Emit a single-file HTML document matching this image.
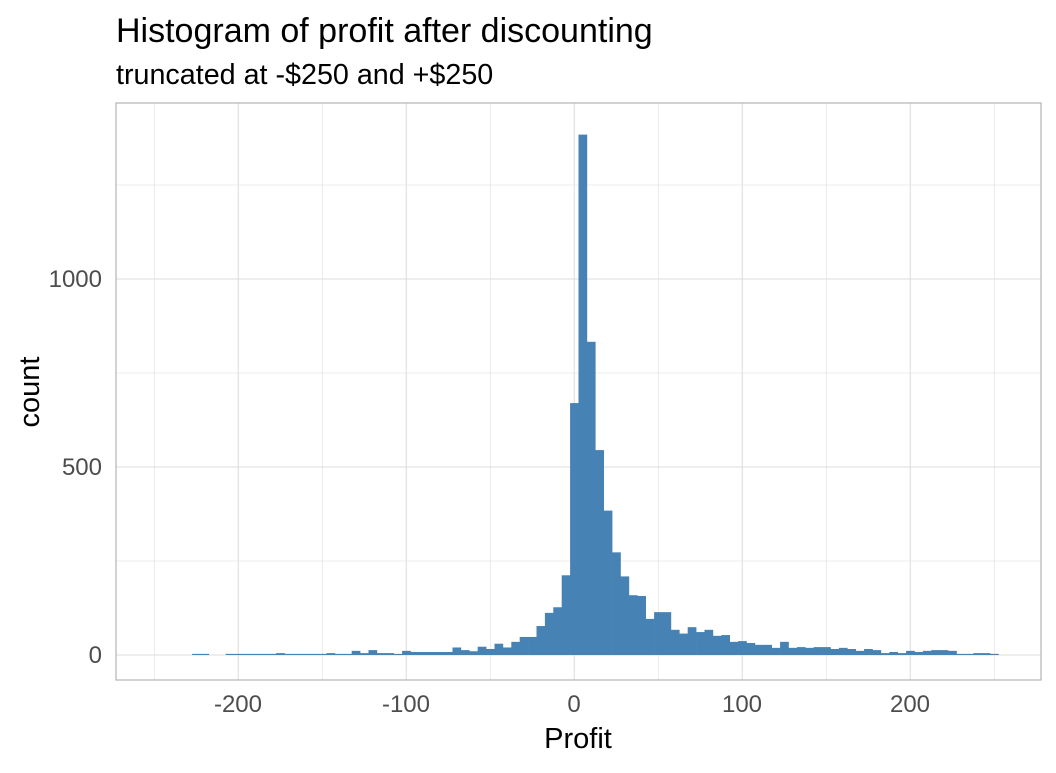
<!DOCTYPE html>
<html><head><meta charset="utf-8"><style>body{margin:0;background:#fff}</style></head><body>
<svg id="s" width="1056" height="768" xmlns="http://www.w3.org/2000/svg" font-family="Liberation Sans, sans-serif">
<rect width="1056" height="768" fill="#fff"/>
<g id="grid"></g>
<g id="bars" fill="#4682b4"></g>
<rect x="116" y="103" width="925" height="577" fill="none" stroke="#b3b3b3" stroke-width="1.2"/>
<text x="116" y="42" font-size="34" fill="#000">Histogram of profit after discounting</text>
<text x="116" y="84" font-size="28.7" fill="#000">truncated at -$250 and +$250</text>
<g font-size="24" fill="#4d4d4d" text-anchor="middle">
<text x="238" y="712">-200</text><text x="406" y="712">-100</text><text x="574" y="712">0</text><text x="742" y="712">100</text><text x="910" y="712">200</text>
</g>
<g font-size="24" fill="#4d4d4d" text-anchor="end">
<text x="102" y="663">0</text><text x="102" y="475">500</text><text x="102" y="287">1000</text>
</g>
<text x="578" y="748" font-size="29" text-anchor="middle">Profit</text>
<text transform="translate(39,392) rotate(-90)" font-size="29" text-anchor="middle">count</text>
</svg>
<script>
const X=u=>574.3+1.68*u, Y=c=>655-0.376*c;
let g='';
for(let u=-250;u<=250;u+=50){const m=u%100===0;g+=`<line x1="${X(u)}" x2="${X(u)}" y1="103" y2="680" stroke="#dedede" stroke-width="${m?1.1:0.6}"/>`;}
for(let c=0;c<=1500;c+=250){const y=Y(c);if(y<103)continue;g+=`<line x1="116" x2="1041" y1="${y}" y2="${y}" stroke="#dedede" stroke-width="${c%500===0?1.1:0.6}"/>`;}
document.getElementById('grid').innerHTML=g;
const d={'-225':3,'-220':3,'-205':3,'-200':3,'-195':3,'-190':3,'-185':3,'-180':3,'-175':5,'-170':3,'-165':3,'-160':3,'-155':3,'-150':3,'-145':5,'-140':3,'-135':3,'-130':11,'-125':5,'-120':13,'-115':5,'-110':5,'-105':3,'-100':11,'-95':8,'-90':8,'-85':8,'-80':8,'-75':8,'-70':20,'-65':13,'-60':10,'-55':22,'-50':16,'-45':30,'-40':20,'-35':35,'-30':48,'-25':48,'-20':77,'-15':112,'-10':127,'-5':212,'0':670,'5':1384,'10':833,'15':545,'20':384,'25':273,'30':209,'35':159,'40':157,'45':96,'50':114,'55':114,'60':67,'65':57,'70':74,'75':61,'80':67,'85':51,'90':53,'95':35,'100':37,'105':32,'110':27,'115':27,'120':19,'125':35,'130':19,'135':21,'140':19,'145':21,'150':21,'155':16,'160':19,'165':16,'170':11,'175':16,'180':13,'185':5,'190':8,'195':5,'200':11,'205':8,'210':11,'215':13,'220':13,'225':11,'230':3,'235':3,'240':5,'245':5,'250':3};
let b='';
for(const k in d){const u=+k,x1=X(u-2.5),x2=X(u+2.5),y=Y(d[k]);b+=`<rect x="${x1}" y="${y}" width="${x2-x1+0.3}" height="${655-y}"/>`;}
document.getElementById('bars').innerHTML=b;
</script>
</body></html>
